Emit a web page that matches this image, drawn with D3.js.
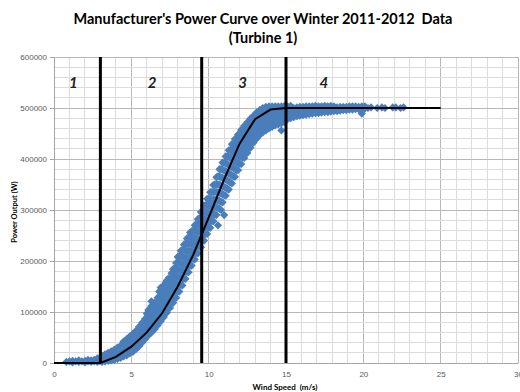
<!DOCTYPE html>
<html>
<head>
<meta charset="utf-8">
<script src="https://cdn.jsdelivr.net/npm/d3@7"></script>
<style>
  body { margin: 0; background: #fff; }
  svg { display: block; font-family: Lato, "Open Sans", sans-serif; }
  text { white-space: pre; }
</style>
</head>
<body>
<div id="chart"></div>
<script>
// chart text
const titleLines = ["Manufacturer's Power Curve over Winter 2011-2012  Data", "(Turbine 1)"];
const xTitle = "Wind Speed  (m/s)";
const yTitle = "Power Output (W)";

// tick values
const xTicks = [0, 5, 10, 15, 20, 25, 30];
const yTicks = [0, 100000, 200000, 300000, 400000, 500000, 600000];

// operating regions: boundary wind speeds and label positions
const regionBounds = [3, 9.55, 15];
const regionLabels = ["1", "2", "3", "4"];
const regionLabelX = [1.25, 6.35, 12.2, 17.45];
const regionLabelY = 547000;

// manufacturer's power curve
const curveWind = [0, 1, 2, 3, 4, 5, 6, 7, 8, 9, 10, 11, 12, 13, 14, 15, 16, 17, 18, 19, 20, 21, 22, 23, 24, 25];
const curvePower = [0, 0, 0, 0, 12000, 32000, 60000, 98000, 150000, 212000, 285000, 360000, 430000, 478000, 497000, 500000, 500000, 500000, 500000, 500000, 500000, 500000, 500000, 500000, 500000, 500000];

const measured = [
  [0.8, [2000]], [1.0, [3000]], [1.2, [1000, 4000]], [1.4, [3000]], [1.6, [2000, 5000]],
  [1.8, [3000]], [2.0, [1000, 4000]], [2.2, [3000, 6000]], [2.4, [2000, 5000]],
  [2.6, [3000, 6000]], [2.8, [2000, 6000, 9000]], [2.95, [4000, 10000]],
  [3.1, [2000, 8000, 14000]], [3.3, [3000, 10000, 17000]], [3.5, [4000, 12000, 20000]],
  [3.7, [5000, 14000, 23000]], [3.9, [6000, 16000, 26000]], [4.1, [8000, 18000, 30000]],
  [4.3, [10000, 21000, 34000]], [4.5, [13000, 24000, 35000, 42000]],
  [4.7, [15000, 27000, 38000, 47000]], [4.9, [19000, 30000, 41000, 52000]],
  [5.1, [22000, 34000, 46000, 57000]], [5.3, [27000, 39000, 51000, 63000]],
  [5.5, [33000, 45000, 58000, 71000]], [5.7, [40000, 52000, 65000, 79000]],
  [5.9, [47000, 60000, 73000, 87000]], [6.1, [54000, 67000, 80000, 94000, 104000]],
  [6.3, [60000, 74000, 88000, 100000, 112000, 121000]], [6.5, [66000, 80000, 94000, 107000, 118000]],
  [6.7, [74000, 88000, 102000, 116000, 128000]], [6.9, [82000, 96000, 110000, 124000, 138000, 148000]],
  [7.1, [90000, 104000, 118000, 132000, 146000]], [7.3, [99000, 113000, 127000, 141000, 155000, 162000]],
  [7.5, [108000, 122000, 136000, 150000, 164000]], [7.7, [118000, 132000, 146000, 160000, 174000, 184000]],
  [7.9, [128000, 142000, 156000, 170000, 184000, 196000]], [8.1, [140000, 154000, 168000, 182000, 196000, 210000]],
  [8.3, [152000, 166000, 180000, 194000, 208000, 222000]], [8.5, [165000, 179000, 193000, 207000, 221000, 234000]],
  [8.7, [178000, 192000, 206000, 220000, 234000, 247000]], [8.9, [191000, 205000, 219000, 233000, 247000, 258000]],
  [9.1, [203000, 217000, 231000, 245000, 259000, 270000]], [9.3, [215000, 229000, 243000, 257000, 271000, 282000]],
  [9.5, [227000, 241000, 255000, 269000, 283000, 296000]], [9.7, [240000, 254000, 268000, 282000, 296000, 309000]],
  [9.9, [253000, 267000, 281000, 295000, 309000, 322000]], [10.1, [265000, 279000, 293000, 307000, 321000, 335000]],
  [10.3, [278000, 292000, 306000, 320000, 335000, 349000]], [10.5, [290000, 305000, 320000, 335000, 350000, 364000]],
  [10.6, [270000]], [10.8, [300000]], [11.0, [290000]],
  [10.7, [302000, 318000, 334000, 350000, 366000, 380000]], [10.9, [315000, 331000, 347000, 363000, 379000, 393000]],
  [11.1, [328000, 344000, 360000, 376000, 392000, 405000]], [11.3, [340000, 356000, 372000, 388000, 404000, 417000]],
  [11.5, [352000, 368000, 384000, 400000, 416000, 429000]], [11.7, [365000, 380000, 395000, 410000, 425000, 439000]],
  [11.9, [378000, 392000, 406000, 420000, 434000, 448000]], [12.1, [390000, 404000, 418000, 432000, 446000, 457000]],
  [12.3, [402000, 415000, 428000, 441000, 454000, 465000]], [12.5, [412000, 425000, 438000, 451000, 463000, 472000]],
  [12.7, [422000, 434000, 446000, 458000, 469000, 479000]], [12.9, [432000, 443000, 454000, 465000, 476000, 485000]],
  [13.1, [440000, 451000, 462000, 473000, 483000, 491000]], [13.3, [447000, 458000, 469000, 479000, 488000, 496000]],
  [13.5, [452000, 463000, 474000, 484000, 493000, 500000]], [13.7, [456000, 467000, 478000, 488000, 496000, 502000]],
  [13.9, [460000, 471000, 481000, 491000, 498000, 503000]], [14.1, [463000, 474000, 484000, 493000, 499000, 503000]],
  [14.3, [466000, 476000, 486000, 494000, 500000, 503000]], [14.5, [468000, 478000, 488000, 496000, 503000]],
  [14.7, [456000, 470000, 480000, 490000, 497000, 503000]], [14.9, [473000, 483000, 492000, 499000, 504000]],
  [15.1, [478000, 488000, 497000, 503000]], [15.3, [480000, 490000, 499000, 504000]],
  [15.5, [482000, 491000, 500000]], [15.7, [484000, 493000, 501000]], [15.9, [485000, 494000, 502000]],
  [16.1, [486000, 495000, 502000]], [16.3, [487000, 496000, 503000]], [16.5, [488000, 496000, 503000]],
  [16.7, [489000, 497000, 503000]], [16.9, [490000, 497000, 504000]], [17.1, [490000, 498000, 503000]],
  [17.3, [491000, 498000, 503000]], [17.5, [492000, 499000, 504000]], [17.7, [492000, 499000, 503000]],
  [17.9, [493000, 500000, 504000]], [18.1, [494000, 500000, 503000]], [18.3, [494000, 501000]],
  [18.5, [495000, 502000]], [18.7, [496000, 502000]], [18.9, [496000, 502000]], [19.1, [497000, 503000]],
  [19.3, [497000, 503000]], [19.5, [498000, 503000]], [19.7, [498000, 502000]], [19.9, [489000, 497000, 503000]],
  [20.1, [499000, 503000]], [20.3, [500000]], [20.5, [501000]], [20.9, [500000]], [21.2, [501000]],
  [21.4, [500000]], [21.9, [501000]], [22.1, [501000]], [22.4, [500000]], [22.6, [501000]],
  // readings in between, where the cloud is steepest
  [6.0, [57000, 70000, 83000, 97000]], [6.2, [64000, 78000, 91000, 104000]],
  [6.4, [70000, 84000, 98000, 110000]], [6.6, [77000, 91000, 105000, 118000]],
  [6.8, [85000, 99000, 113000, 127000, 140000]], [7.0, [93000, 107000, 121000, 135000, 149000]],
  [7.2, [101000, 115000, 129000, 143000, 157000]], [7.4, [110000, 124000, 138000, 152000, 166000]],
  [7.6, [120000, 134000, 148000, 162000, 176000]], [7.8, [130000, 144000, 158000, 172000, 186000]],
  [8.0, [141000, 155000, 169000, 183000, 197000, 208000]], [8.2, [153000, 167000, 181000, 195000, 209000, 220000]],
  [8.4, [165000, 179000, 193000, 207000, 221000, 232000]], [8.6, [178000, 192000, 206000, 220000, 234000, 244000]],
  [8.8, [191000, 205000, 219000, 233000, 247000, 256000]], [9.0, [204000, 218000, 232000, 246000, 260000]],
  [9.2, [216000, 230000, 244000, 258000, 272000]], [9.4, [228000, 242000, 256000, 270000, 284000]],
  [9.6, [240000, 254000, 268000, 282000, 296000]], [9.8, [253000, 267000, 281000, 295000, 309000]],
  [10.0, [266000, 280000, 294000, 308000, 322000]], [10.2, [278000, 292000, 306000, 320000, 335000]],
  [10.4, [291000, 306000, 321000, 336000, 350000]], [10.6, [304000, 319000, 335000, 350000, 366000]],
  [10.8, [316000, 332000, 348000, 364000, 380000]], [11.0, [329000, 345000, 361000, 377000, 393000]],
  [11.2, [342000, 358000, 374000, 390000, 405000]], [11.4, [354000, 370000, 386000, 402000, 418000]],
  [11.6, [366000, 382000, 397000, 413000, 428000]], [11.8, [378000, 393000, 408000, 422000, 437000]],
  [12.0, [391000, 405000, 419000, 433000, 447000]], [12.2, [403000, 416000, 430000, 443000, 456000]],
  [12.4, [413000, 426000, 439000, 452000, 464000]], [12.6, [423000, 435000, 448000, 460000, 472000]],
  [12.8, [433000, 444000, 456000, 467000, 478000]], [13.0, [441000, 452000, 463000, 474000, 484000]],
  [13.2, [449000, 460000, 471000, 481000, 490000]], [13.4, [455000, 465000, 476000, 486000, 495000]]
];

const width = 520, height = 392;

const svg = d3.select("#chart")
  .append("svg")
  .attr("width", width)
  .attr("height", height);

const x = d3.scaleLinear().domain([0, 30]).range([54, 518]);
const y = d3.scaleLinear().domain([0, 600000]).range([363, 57]);

// grid, darker every 5 m/s and every 100000 W
const grid = svg.append("g");
grid.selectAll(".vgrid")
  .data(d3.range(1, 31))
  .enter().append("line")
  .attr("x1", d => x(d)).attr("x2", d => x(d))
  .attr("y1", y(0)).attr("y2", y(600000))
  .attr("stroke", d => d % 5 === 0 ? "#b8b8b8" : "#dcdcdc")
  .attr("stroke-width", 1)
  .attr("shape-rendering", "crispEdges");
grid.selectAll(".hgrid")
  .data(d3.range(20000, 600001, 20000))
  .enter().append("line")
  .attr("x1", x(0)).attr("x2", x(30))
  .attr("y1", d => y(d)).attr("y2", d => y(d))
  .attr("stroke", d => d % 100000 === 0 ? "#b8b8b8" : "#dcdcdc")
  .attr("stroke-width", 1)
  .attr("shape-rendering", "crispEdges");

// axes
const xAxis = d3.axisBottom(x).tickValues(xTicks).tickSize(0).tickPadding(8);
svg.append("g")
  .attr("transform", "translate(0," + y(0) + ")")
  .call(xAxis)
  .call(g => g.select(".domain").attr("stroke", "#a6a6a6"))
  .call(g => g.selectAll("text").attr("fill", "#595959").style("font-size", "8px"));

const yAxis = d3.axisLeft(y).tickValues(yTicks).tickSize(4).tickPadding(3).tickFormat(d3.format("d"));
svg.append("g")
  .attr("transform", "translate(" + x(0) + ",0)")
  .call(yAxis)
  .call(g => g.select(".domain").attr("stroke", "#a6a6a6"))
  .call(g => g.selectAll(".tick line").attr("stroke", "#a6a6a6"))
  .call(g => g.selectAll("text").attr("fill", "#595959").style("font-size", "8px"));

// measured points as diamonds
const points = measured.flatMap(([w, ps]) => ps.map(p => ({ w: w, p: p })));
const diamond = d3.symbol().type(d3.symbolSquare).size(34);
svg.append("g")
  .selectAll("path")
  .data(points)
  .enter().append("path")
  .attr("d", diamond)
  .attr("transform", d => "translate(" + x(d.w) + "," + y(d.p) + ") rotate(45)")
  .attr("fill", "#4a7ebb");

// region boundaries
svg.append("g")
  .selectAll("line")
  .data(regionBounds)
  .enter().append("line")
  .attr("x1", d => x(d)).attr("x2", d => x(d))
  .attr("y1", y(0)).attr("y2", y(600000))
  .attr("stroke", "#000")
  .attr("stroke-width", 3);

// manufacturer's curve
const curve = curveWind.map((w, i) => [w, curvePower[i]]);
svg.append("path")
  .datum(curve)
  .attr("fill", "none")
  .attr("stroke", "#000")
  .attr("stroke-width", 2)
  .attr("d", d3.line().x(d => x(d[0])).y(d => y(d[1])));

// region labels
svg.append("g")
  .selectAll("text")
  .data(regionLabels)
  .enter().append("text")
  .attr("x", (d, i) => x(regionLabelX[i]))
  .attr("y", y(regionLabelY))
  .attr("text-anchor", "middle")
  .attr("dominant-baseline", "middle")
  .style("font-size", "15px")
  .style("font-style", "italic")
  .style("font-weight", "bold")
  .attr("fill", "#222")
  .text(d => d);

// title
svg.append("text")
  .attr("x", 263)
  .attr("y", 24)
  .attr("text-anchor", "middle")
  .style("font-size", "14.5px")
  .style("font-weight", "bold")
  .attr("fill", "#000")
  .text(titleLines[0]);
svg.append("text")
  .attr("x", 263)
  .attr("y", 43)
  .attr("text-anchor", "middle")
  .style("font-size", "14.5px")
  .style("font-weight", "bold")
  .attr("fill", "#000")
  .text(titleLines[1]);

// axis titles
svg.append("text")
  .attr("x", 285)
  .attr("y", 390)
  .attr("text-anchor", "middle")
  .style("font-size", "8px")
  .style("font-weight", "bold")
  .text(xTitle);

svg.append("text")
  .attr("transform", "translate(17,212) rotate(-90)")
  .attr("text-anchor", "middle")
  .style("font-size", "7.5px")
  .style("font-weight", "bold")
  .text(yTitle);
</script>
</body>
</html>
